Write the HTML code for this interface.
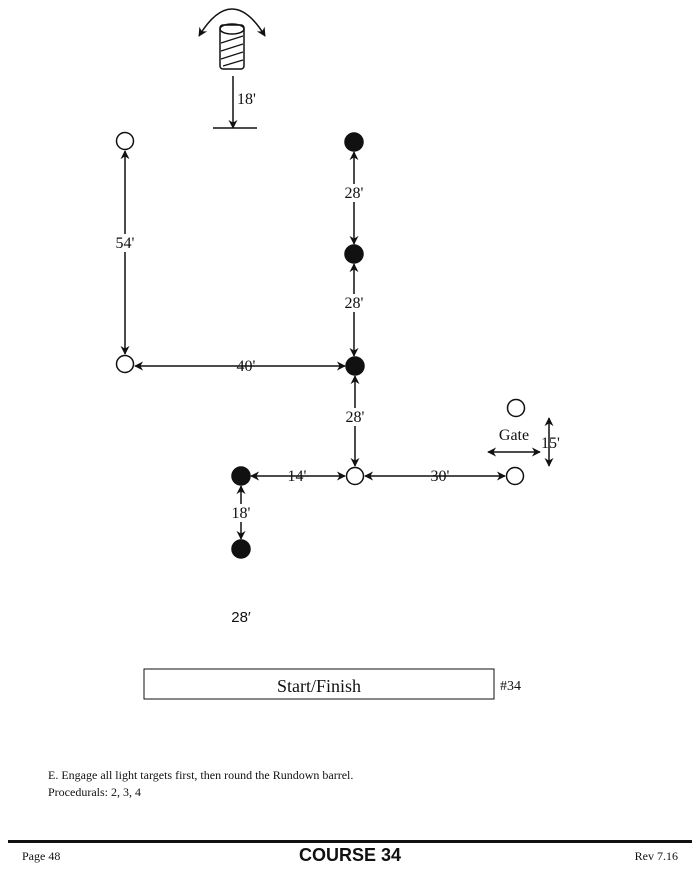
<!DOCTYPE html>
<html><head><meta charset="utf-8"><style>
html,body{margin:0;padding:0;background:#fff;width:700px;height:870px;overflow:hidden}
text{font-family:"Liberation Serif",serif;fill:#111}
</style></head><body>
<svg width="700" height="870" viewBox="0 0 700 870" xmlns="http://www.w3.org/2000/svg">
<defs>
<marker id="a" viewBox="0 0 10 10" refX="9" refY="5" markerWidth="9" markerHeight="9" orient="auto-start-reverse" markerUnits="userSpaceOnUse"><path d="M0,0 L10,5 L0,10 L3,5 z" fill="#111"/></marker>
</defs>
<g stroke="#111" stroke-width="1.5" fill="none">
<!-- barrel -->
<path d="M199,36 Q232,-18 265,36" marker-start="url(#a)" marker-end="url(#a)"/>
<rect x="220" y="25" width="24" height="44" rx="3" fill="#fff"/>
<ellipse cx="232" cy="29" rx="12" ry="5"/>
<path d="M221,43 L243,36 M221,51 L243,44 M221,59 L243,52 M223,66 L243,60" stroke-width="1.2"/>
<line x1="233" y1="76" x2="233" y2="128" marker-end="url(#a)"/>
<line x1="213" y1="128" x2="257" y2="128"/>
<!-- connectors -->
<line x1="125" y1="151" x2="125" y2="354" marker-start="url(#a)" marker-end="url(#a)"/>
<line x1="354" y1="152" x2="354" y2="244" marker-start="url(#a)" marker-end="url(#a)"/>
<line x1="354" y1="264" x2="354" y2="356" marker-start="url(#a)" marker-end="url(#a)"/>
<line x1="355" y1="376" x2="355" y2="466" marker-start="url(#a)" marker-end="url(#a)"/>
<line x1="135" y1="366" x2="345" y2="366" marker-start="url(#a)" marker-end="url(#a)"/>
<line x1="251" y1="476" x2="345" y2="476" marker-start="url(#a)" marker-end="url(#a)"/>
<line x1="365" y1="476" x2="505" y2="476" marker-start="url(#a)" marker-end="url(#a)"/>
<line x1="241" y1="486" x2="241" y2="539" marker-start="url(#a)" marker-end="url(#a)"/>
<line x1="488" y1="452" x2="540" y2="452" marker-start="url(#a)" marker-end="url(#a)"/>
<line x1="549" y1="418" x2="549" y2="466" marker-start="url(#a)" marker-end="url(#a)"/>
<!-- circles -->
<circle cx="125" cy="141" r="8.5" fill="#fff"/>
<circle cx="354" cy="142" r="9" fill="#111"/>
<circle cx="354" cy="254" r="9" fill="#111"/>
<circle cx="125" cy="364" r="8.5" fill="#fff"/>
<circle cx="355" cy="366" r="9" fill="#111"/>
<circle cx="516" cy="408" r="8.5" fill="#fff"/>
<circle cx="355" cy="476" r="8.5" fill="#fff"/>
<circle cx="515" cy="476" r="8.5" fill="#fff"/>
<circle cx="241" cy="476" r="9" fill="#111"/>
<circle cx="241" cy="549" r="9" fill="#111"/>
<rect x="144" y="669" width="350" height="30" stroke-width="1"/>
</g>
<g font-size="16">
<text x="237" y="104">18'</text>
<rect x="114" y="234" width="22" height="18" fill="#fff"/><text x="125" y="248" text-anchor="middle">54'</text>
<rect x="343" y="184" width="22" height="18" fill="#fff"/><text x="354" y="198" text-anchor="middle">28'</text>
<rect x="343" y="294" width="22" height="18" fill="#fff"/><text x="354" y="308" text-anchor="middle">28'</text>
<rect x="344" y="408" width="22" height="18" fill="#fff"/><text x="355" y="422" text-anchor="middle">28'</text>
<text x="246" y="371" text-anchor="middle">40'</text>
<text x="297" y="481" text-anchor="middle">14'</text>
<text x="440" y="481" text-anchor="middle">30'</text>
<rect x="230" y="504" width="22" height="18" fill="#fff"/><text x="241" y="518" text-anchor="middle">18'</text>
<text x="514" y="440" text-anchor="middle">Gate</text>
<text x="541" y="448">15'</text>
<text x="241" y="622" text-anchor="middle" style="font-family:'Liberation Sans',sans-serif" font-size="15">28′</text>
<text x="319" y="692" text-anchor="middle" font-size="18">Start/Finish</text>
<text x="500" y="690" font-size="14">#34</text>
</g>
<g font-size="12">
<text x="48" y="779">E. Engage all light targets first, then round the Rundown barrel.</text>
<text x="48" y="796">Procedurals:  2, 3, 4</text>
<text x="22" y="860">Page 48</text>
<text x="678" y="860" text-anchor="end">Rev 7.16</text>
</g>
<rect x="8" y="840" width="684" height="3" fill="#111"/>
<text x="350" y="861" text-anchor="middle" style="font-family:'Liberation Sans',sans-serif;font-weight:bold" font-size="18">COURSE 34</text>
</svg>
</body></html>
